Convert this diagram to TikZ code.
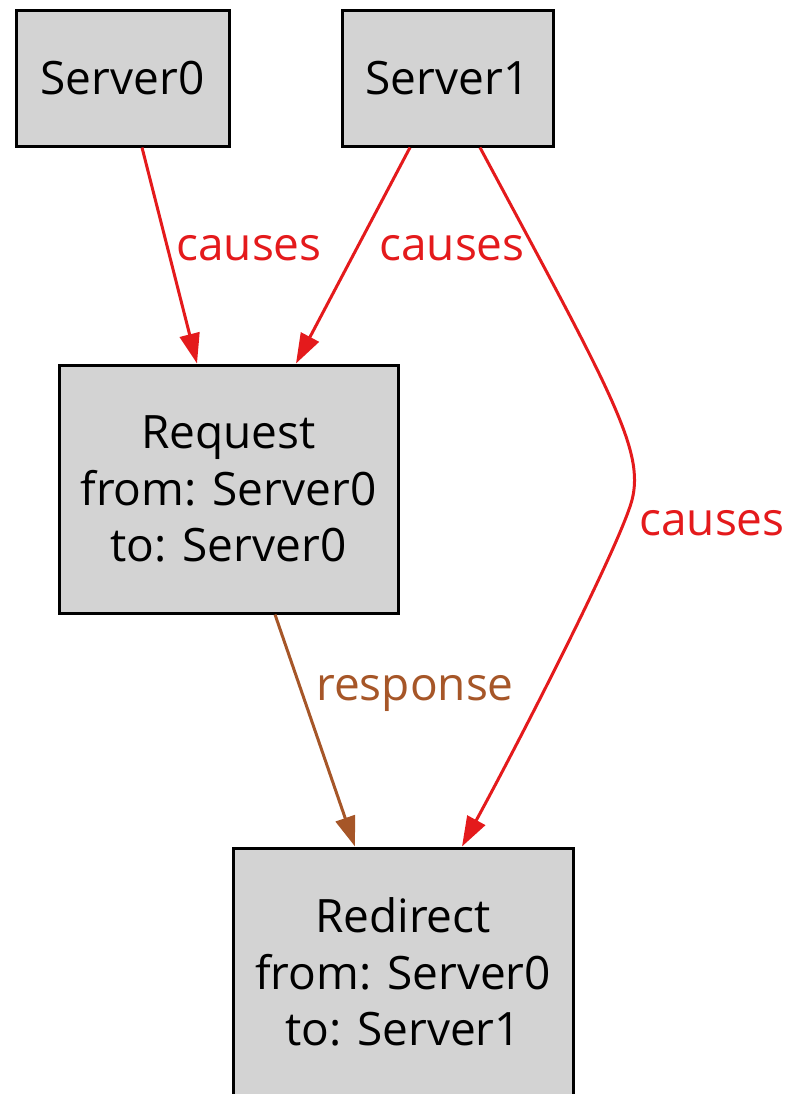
\documentclass[tikz,border=0pt]{standalone}
\usepackage{fontspec}
\setmainfont{Open Sans}
\usepackage{tikz}
\usetikzlibrary{arrows.meta, positioning, calc}
\definecolor{causered}{HTML}{E41A1C}
\definecolor{respbrown}{HTML}{A65628}
\definecolor{boxgray}{HTML}{D3D3D3}
\tikzstyle{arrow} = [line width=1.5pt, -{Triangle[length=15pt, width=10pt]}]

\begin{document}
\begin{tikzpicture}[
    eventbox/.style={rectangle, draw=black, fill=boxgray, line width=1.5pt, align=center, font=\fontsize{23}{28.25}\selectfont},
    edgelabel/.style={font=\fontsize{23}{28.25}\selectfont},
]
\useasboundingbox (0,0) rectangle (395.5pt,-547pt);

% Servers
\node[eventbox, minimum width=106.5pt, minimum height=68pt] (server0) at (61.25pt,-39pt) {Server0};
\node[eventbox, minimum width=105.5pt, minimum height=68pt] (server1) at (223.75pt,-39pt) {Server1};

% Messages
\node[eventbox, minimum width=169.5pt, minimum height=124pt] (request) at (114.25pt,-244.5pt) {Request\\from: Server0\\to: Server0};
\node[eventbox, minimum width=170pt, minimum height=124pt] (redirect) at (201.5pt,-486pt) {Redirect\\from: Server0\\to: Server1};

% Arrows
\draw[arrow, causered] ([xshift=9.75pt]server0.south) -- ([xshift=-15.75pt]request.north);
\draw[arrow, causered] ([xshift=-18.75pt]server1.south) -- ([xshift=33.75pt]request.north);
\draw[arrow, causered] ([xshift=16.25pt]server1.south) .. controls (305pt,-195pt) and (322.5pt,-225pt) .. (316pt,-250pt)
    .. controls (310pt,-272.5pt) and (260pt,-370pt) .. ([xshift=29.5pt]redirect.north);
\draw[arrow, respbrown] ([xshift=23.25pt]request.south) -- ([xshift=-24pt]redirect.north);

% Labels
\node[edgelabel, text=causered] (lab0) at (124.5pt,-124pt) {causes};
\node[edgelabel, text=causered] (lab1) at (226pt,-124pt) {causes};
\node[edgelabel, text=causered] (lab2) at (356pt,-261.5pt) {causes};
\node[edgelabel, text=respbrown] (lab3) at (207.5pt,-346.5pt) {response};

\end{tikzpicture}
\end{document}
